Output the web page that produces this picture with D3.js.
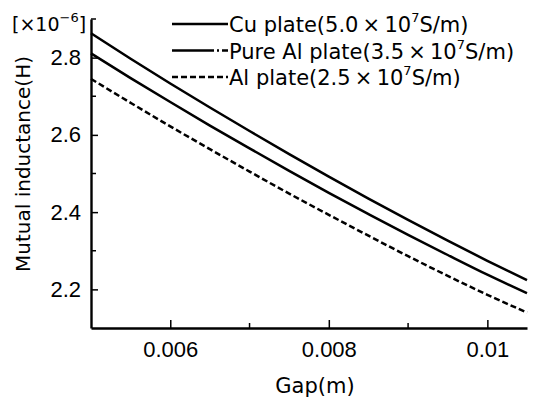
<!DOCTYPE html>
<html>
<head>
<meta charset="utf-8">
<script src="https://cdn.jsdelivr.net/npm/d3@7"></script>
<style>
  body { margin: 0; background: #fff; }
  svg { display: block; font-family: "DejaVu Sans", sans-serif; }
</style>
</head>
<body>
<div id="chart"></div>
<script>
const width = 537, height = 406;
const margin = { left: 91, right: 10, top: 19, bottom: 77 };

// gap (m)
const gaps = [0.005, 0.0055, 0.006, 0.0065, 0.007, 0.0075, 0.008, 0.0085, 0.009, 0.0095, 0.01, 0.0105];
// mutual inductance (x1e-6 H)
const cuPlate = [2.863, 2.797, 2.733, 2.671, 2.610, 2.550, 2.492, 2.435, 2.380, 2.326, 2.274, 2.224];
const pureAlPlate = [2.811, 2.747, 2.685, 2.624, 2.565, 2.507, 2.450, 2.395, 2.341, 2.289, 2.238, 2.190];
const alPlate = [2.745, 2.683, 2.622, 2.563, 2.505, 2.448, 2.393, 2.339, 2.286, 2.235, 2.186, 2.140];

const xTicks = [0.006, 0.008, 0.01];
const xMinorTicks = [0.007, 0.009];
const yTicks = [2.2, 2.4, 2.6, 2.8];
const yMinorTicks = [2.3, 2.5, 2.7, 2.9];

const seriesNames = ['Cu plate', 'Pure Al plate', 'Al plate'];
const seriesCond = ['5.0', '3.5', '2.5'];

const svg = d3.select('#chart').append('svg')
  .attr('width', width)
  .attr('height', height);

const x = d3.scaleLinear()
  .domain([0.005, 0.0105])
  .range([margin.left, width - margin.right]);
const y = d3.scaleLinear()
  .domain([2.1, 2.9])
  .range([height - margin.bottom - 1, margin.top]);

const series = [
  { name: seriesNames[0], cond: seriesCond[0], values: cuPlate, dash: null, legendDash: null },
  { name: seriesNames[1], cond: seriesCond[1], values: pureAlPlate, dash: null, legendDash: '42,3,2,3,12' },
  { name: seriesNames[2], cond: seriesCond[2], values: alPlate, dash: '6,3', legendDash: '6,3' }
];

// lines
const line = d3.line()
  .x(d => x(d[0]))
  .y(d => y(d[1]))
  .curve(d3.curveMonotoneX);
svg.append('g')
  .selectAll('path')
  .data(series)
  .join('path')
    .attr('d', s => line(gaps.map((g, i) => [g, s.values[i]])))
    .attr('fill', 'none')
    .attr('stroke', '#000')
    .attr('stroke-width', 2.5)
    .attr('stroke-dasharray', s => s.dash);

// axes
const xAxis = d3.axisBottom(x)
  .tickValues(xTicks)
  .tickSizeInner(-8)
  .tickSizeOuter(0)
  .tickPadding(13)
  .tickFormat(d => d3.format('')(+d.toFixed(4)));
const gx = svg.append('g')
  .attr('transform', `translate(0, ${y(2.1)})`)
  .call(xAxis);
gx.selectAll('.tick text').attr('font-size', '22px').attr('fill', '#000');
gx.append('g')
  .selectAll('line')
  .data(xMinorTicks)
  .join('line')
    .attr('x1', d => x(d))
    .attr('x2', d => x(d))
    .attr('y1', 0)
    .attr('y2', -5)
    .attr('stroke', '#000')
    .attr('stroke-width', 1.5);

const yAxis = d3.axisLeft(y)
  .tickValues(yTicks)
  .tickSizeInner(-7)
  .tickSizeOuter(0)
  .tickPadding(10)
  .tickFormat(d3.format('.1f'));
const gy = svg.append('g')
  .attr('transform', `translate(${x(0.005)}, 0)`)
  .call(yAxis);
gy.selectAll('.tick text').attr('font-size', '22px').attr('fill', '#000');
gy.append('g')
  .selectAll('line')
  .data(yMinorTicks)
  .join('line')
    .attr('x1', 0)
    .attr('x2', 5)
    .attr('y1', d => y(d))
    .attr('y2', d => y(d))
    .attr('stroke', '#000')
    .attr('stroke-width', 1.5);

svg.selectAll('.domain').attr('stroke-width', 2.4);
svg.selectAll('.tick line').attr('stroke-width', 1.5);

// axis titles
svg.append('text')
  .attr('x', (x(0.005) + x(0.0105)) / 2 + 6)
  .attr('y', 393)
  .attr('text-anchor', 'middle')
  .attr('font-size', '21px')
  .text('Gap(m)');
svg.append('text')
  .attr('transform', `translate(30, ${164}) rotate(-90)`)
  .attr('text-anchor', 'middle')
  .attr('font-size', '20px')
  .text('Mutual inductance(H)');

// unit
const unit = svg.append('text')
  .attr('x', 12)
  .attr('y', 31)
  .attr('font-size', '19px');
unit.append('tspan').text('[×10');
unit.append('tspan').attr('dy', -9).attr('font-size', '13px').text('−6');
unit.append('tspan').attr('dy', 9).text(']');

// legend
const legend = svg.append('g')
  .selectAll('g')
  .data(series)
  .join('g')
    .attr('transform', (d, i) => `translate(172, ${24 + i * 26.5})`);
legend.append('line')
  .attr('x1', 0)
  .attr('x2', 56)
  .attr('stroke', '#000')
  .attr('stroke-width', 2.4)
  .attr('stroke-dasharray', d => d.legendDash);
const lt = legend.append('text')
  .attr('x', 57)
  .attr('y', 8)
  .attr('font-size', '21px');
lt.append('tspan').text(d => `${d.name}(${d.cond}\u2009×\u200910`);
lt.append('tspan').attr('dy', -10).attr('font-size', '13px').text('7');
lt.append('tspan').attr('dy', 10).text('S/m)');
</script>
</body>
</html>
